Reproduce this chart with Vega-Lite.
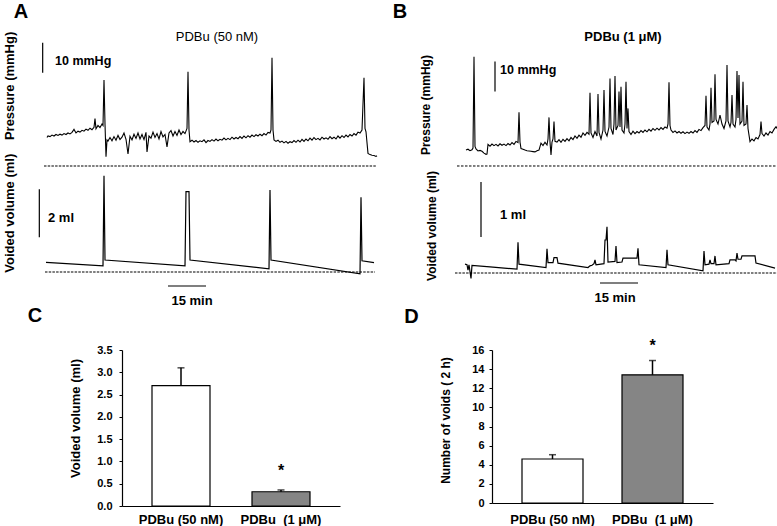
{
"$schema": "https://vega.github.io/schema/vega-lite/v6.json",
"padding": 0,
"autosize": {"type": "pad"},
"background": "white",
"config": {"view": {"stroke": null}, "font": "Liberation Sans", "mark": {"color": "black"}, "text": {"color": "black"}, "axis": {"labelOverlap": false}},
"spacing": 0,
"vconcat": [
{"hconcat": [
 {"width": 390, "height": 338,
  "encoding": {"x": {"field": "t", "type": "quantitative", "scale": {"domain": [-1100, 8650], "nice": false, "zero": false}, "axis": null}},
  "resolve": {"scale": {"y": "independent"}},
  "layer": [
   {"encoding": {"y": {"field": "v", "type": "quantitative", "scale": {"domain": [-57.333, 55.333], "nice": false, "zero": false}, "axis": null}},
    "layer": [
   {"data": {"values": [
{"t":75,"v":9.5},{"t":100,"v":10.0},{"t":150,"v":9.8},{"t":200,"v":10.3},{"t":250,"v":10.0},{"t":300,"v":10.5},{"t":350,"v":10.2},{"t":400,"v":10.6},{"t":450,"v":10.3},{"t":500,"v":10.8},{"t":550,"v":10.5},{"t":600,"v":11.0},{"t":650,"v":10.7},{"t":700,"v":11.2},{"t":750,"v":12.2},{"t":800,"v":11.0},{"t":850,"v":11.6},{"t":900,"v":11.3},{"t":950,"v":11.9},{"t":1000,"v":11.6},{"t":1050,"v":12.3},{"t":1100,"v":11.9},{"t":1150,"v":12.6},{"t":1200,"v":12.1},{"t":1250,"v":12.9},{"t":1275,"v":15.8},{"t":1300,"v":12.4},{"t":1350,"v":13.5},{"t":1400,"v":12.8},{"t":1450,"v":14.0},{"t":1475,"v":13.5},{"t":1500,"v":28.7},{"t":1525,"v":14.0},{"t":1550,"v":3.1},{"t":1575,"v":8.7},
{"t":1600,"v":8.3},{"t":1650,"v":9.5},{"t":1700,"v":8.4},{"t":1750,"v":9.8},{"t":1800,"v":8.6},{"t":1850,"v":10.2},{"t":1900,"v":8.8},{"t":1950,"v":9.6},{"t":2000,"v":11.0},{"t":2050,"v":8.9},{"t":2100,"v":4.0},{"t":2150,"v":9.9},{"t":2200,"v":8.7},{"t":2250,"v":10.6},{"t":2300,"v":9.2},{"t":2350,"v":11.0},{"t":2400,"v":9.0},{"t":2450,"v":10.5},{"t":2500,"v":8.8},{"t":2550,"v":11.2},{"t":2575,"v":4.7},{"t":2625,"v":10.0},{"t":2675,"v":9.3},{"t":2725,"v":11.3},{"t":2775,"v":9.5},{"t":2825,"v":10.8},{"t":2875,"v":9.0},{"t":2925,"v":11.5},{"t":2975,"v":9.7},{"t":3025,"v":10.5},{"t":3075,"v":6.4},{"t":3125,"v":11.0},{"t":3175,"v":11.8},{"t":3225,"v":10.0},{"t":3275,"v":11.5},{"t":3325,"v":10.2},{"t":3375,"v":12.0},{"t":3425,"v":10.5},{"t":3475,"v":11.5},{"t":3525,"v":10.8},{"t":3575,"v":12.5},{"t":3600,"v":31.4},{"t":3625,"v":12.0},{"t":3650,"v":8.1},
{"t":3700,"v":8.6},{"t":3750,"v":8.0},{"t":3800,"v":8.5},{"t":3850,"v":7.9},{"t":3900,"v":8.4},{"t":3950,"v":8.1},{"t":4000,"v":8.7},{"t":4050,"v":7.8},{"t":4100,"v":8.5},{"t":4150,"v":8.2},{"t":4200,"v":8.8},{"t":4250,"v":8.3},{"t":4300,"v":9.0},{"t":4350,"v":8.4},{"t":4400,"v":8.9},{"t":4450,"v":8.6},{"t":4500,"v":9.3},{"t":4550,"v":8.7},{"t":4600,"v":9.2},{"t":4650,"v":8.8},{"t":4700,"v":9.6},{"t":4750,"v":9.0},{"t":4800,"v":9.5},{"t":4850,"v":9.1},{"t":4900,"v":9.8},{"t":4950,"v":9.2},{"t":5000,"v":10.0},{"t":5050,"v":9.4},{"t":5100,"v":10.1},{"t":5150,"v":9.6},{"t":5200,"v":10.3},{"t":5250,"v":9.8},{"t":5300,"v":10.4},{"t":5350,"v":10.0},{"t":5400,"v":10.6},{"t":5450,"v":10.1},{"t":5500,"v":10.8},{"t":5550,"v":10.3},{"t":5600,"v":11.2},{"t":5650,"v":11.0},{"t":5675,"v":12.0},{"t":5700,"v":36.1},{"t":5725,"v":12.0},{"t":5750,"v":8.7},
{"t":5800,"v":8.2},{"t":5850,"v":8.6},{"t":5900,"v":7.9},{"t":5950,"v":8.3},{"t":6000,"v":7.7},{"t":6050,"v":8.2},{"t":6100,"v":7.6},{"t":6150,"v":8.1},{"t":6200,"v":7.8},{"t":6250,"v":8.5},{"t":6300,"v":7.9},{"t":6350,"v":8.6},{"t":6400,"v":8.0},{"t":6450,"v":8.9},{"t":6500,"v":8.2},{"t":6550,"v":9.0},{"t":6600,"v":8.4},{"t":6650,"v":9.3},{"t":6700,"v":8.6},{"t":6750,"v":9.5},{"t":6800,"v":8.8},{"t":6850,"v":9.2},{"t":6900,"v":8.7},{"t":6950,"v":9.6},{"t":7000,"v":9.0},{"t":7050,"v":9.4},{"t":7100,"v":8.9},{"t":7150,"v":9.8},{"t":7200,"v":9.1},{"t":7250,"v":9.6},{"t":7300,"v":9.0},{"t":7350,"v":10.0},{"t":7400,"v":9.3},{"t":7450,"v":10.1},{"t":7500,"v":9.5},{"t":7550,"v":10.3},{"t":7600,"v":9.7},{"t":7650,"v":10.5},{"t":7700,"v":10.0},{"t":7750,"v":10.8},{"t":7800,"v":10.3},{"t":7850,"v":11.3},{"t":7900,"v":11.0},{"t":7950,"v":12.0},{"t":8000,"v":29.4},{"t":8025,"v":12.5},{"t":8050,"v":11.4},{"t":8100,"v":4.2},{"t":8150,"v":3.8},{"t":8200,"v":3.6},{"t":8250,"v":3.5},{"t":8300,"v":3.2},{"t":8325,"v":3.4}
   ]}, "mark": {"type": "line", "color": "black", "strokeWidth": 1.1}},
   {"data": {"values": [{"t": 0, "t2": 8325, "v": 0}]}, "mark": {"type": "rule", "color": "black", "strokeWidth": 1.2, "strokeDash": [2.5, 1.2]}, "encoding": {"x2": {"field": "t2"}}},
   {"data": {"values": [{"t": -33, "v": 31.1, "v2": 41.1}]}, "mark": {"type": "rule", "color": "black", "strokeWidth": 1.2}, "encoding": {"y2": {"field": "v2"}}},
   {"data": {"values": [{"t": -575, "v": 51.3, "label": "A"}]}, "mark": {"type": "text", "fontSize": 20, "fontWeight": "bold", "align": "center", "baseline": "middle"}, "encoding": {"text": {"field": "label"}}},
   {"data": {"values": [{"t": -850, "v": 26.7, "label": "Pressure (mmHg)"}]}, "mark": {"type": "text", "fontSize": 13, "fontWeight": "bold", "angle": 270, "align": "center", "baseline": "middle"}, "encoding": {"text": {"field": "label"}}},
   {"data": {"values": [{"t": 4325, "v": 43, "label": "PDBu (50 nM)"}]}, "mark": {"type": "text", "fontSize": 13, "align": "center", "baseline": "middle"}, "encoding": {"text": {"field": "label"}}},
   {"data": {"values": [{"t": 275, "v": 35, "label": "10 mmHg"}]}, "mark": {"type": "text", "fontSize": 12.5, "fontWeight": "bold", "align": "left", "baseline": "middle"}, "encoding": {"text": {"field": "label"}}}
    ]},
   {"encoding": {"y": {"field": "v", "type": "quantitative", "scale": {"domain": [-2.75, 11.3333], "nice": false, "zero": false}, "axis": null}},
    "layer": [
   {"data": {"values": [
{"t":50,"v":0.40},{"t":1475,"v":0.26},{"t":1500,"v":4.01},{"t":1525,"v":0.50},{"t":3525,"v":0.26},{"t":3550,"v":3.35},{"t":3625,"v":3.35},{"t":3650,"v":0.50},{"t":5625,"v":0.13},{"t":5650,"v":3.42},{"t":5675,"v":0.50},{"t":7900,"v":-0.08},{"t":7925,"v":3.11},{"t":7950,"v":0.47},{"t":8250,"v":0.39}
   ]}, "mark": {"type": "line", "color": "black", "strokeWidth": 1.2}},
   {"data": {"values": [{"t": 25, "t2": 8275, "v": 0}]}, "mark": {"type": "rule", "color": "black", "strokeWidth": 1.2, "strokeDash": [2.5, 1.2]}, "encoding": {"x2": {"field": "t2"}}},
   {"data": {"values": [{"t": -117, "v": 1.446, "v2": 3.446}]}, "mark": {"type": "rule", "color": "black", "strokeWidth": 1.2}, "encoding": {"y2": {"field": "v2"}}},
   {"data": {"values": [{"t": 3100, "t2": 4050, "v": -0.583}]}, "mark": {"type": "rule", "color": "black", "strokeWidth": 1.2}, "encoding": {"x2": {"field": "t2"}}},
   {"data": {"values": [{"t": 100, "v": 2.27, "label": "2 ml"}]}, "mark": {"type": "text", "fontSize": 13, "fontWeight": "bold", "align": "left", "baseline": "middle"}, "encoding": {"text": {"field": "label"}}},
   {"data": {"values": [{"t": 3700, "v": -1.2, "label": "15 min"}]}, "mark": {"type": "text", "fontSize": 13, "fontWeight": "bold", "align": "center", "baseline": "middle"}, "encoding": {"text": {"field": "label"}}},
   {"data": {"values": [{"t": -850, "v": 2.45, "label": "Voided volume (ml)"}]}, "mark": {"type": "text", "fontSize": 13, "fontWeight": "bold", "angle": 270, "align": "center", "baseline": "middle"}, "encoding": {"text": {"field": "label"}}},
   {"data": {"values": [{"t": -225, "v": -1.833, "label": "C"}]}, "mark": {"type": "text", "fontSize": 20, "fontWeight": "bold", "align": "center", "baseline": "middle"}, "encoding": {"text": {"field": "label"}}}
    ]}
  ]},
 {"width": 387, "height": 338,
  "encoding": {"x": {"field": "t", "type": "quantitative", "scale": {"domain": [-1675, 8000], "nice": false, "zero": false}, "axis": null}},
  "resolve": {"scale": {"y": "independent"}},
  "layer": [
   {"encoding": {"y": {"field": "v", "type": "quantitative", "scale": {"domain": [-57.333, 55.333], "nice": false, "zero": false}, "axis": null}},
    "layer": [
   {"data": {"values": [
{"t":225,"v":5.3},{"t":275,"v":5.6},{"t":325,"v":5.1},{"t":375,"v":5.4},{"t":400,"v":6.0},{"t":425,"v":36.4},{"t":450,"v":6.5},{"t":475,"v":5.7},{"t":525,"v":5.0},{"t":575,"v":5.2},{"t":625,"v":4.9},{"t":675,"v":4.3},{"t":725,"v":3.9},{"t":750,"v":4.0},{"t":775,"v":7.2},{"t":825,"v":6.6},{"t":875,"v":7.3},{"t":925,"v":6.8},{"t":975,"v":7.2},{"t":1025,"v":6.7},{"t":1075,"v":7.4},{"t":1125,"v":6.9},{"t":1175,"v":7.3},{"t":1225,"v":6.8},{"t":1275,"v":7.5},{"t":1325,"v":7.0},{"t":1375,"v":7.8},{"t":1425,"v":7.2},{"t":1475,"v":8.2},{"t":1525,"v":7.8},{"t":1550,"v":17.9},{"t":1575,"v":8.0},{"t":1600,"v":5.8},{"t":1650,"v":5.6},{"t":1700,"v":5.3},{"t":1750,"v":5.1},{"t":1800,"v":5.0},{"t":1850,"v":4.9},{"t":1900,"v":4.8},{"t":1950,"v":4.7},{"t":2000,"v":5.1},{"t":2050,"v":5.3},{"t":2100,"v":7.6},{"t":2150,"v":6.8},{"t":2200,"v":7.9},{"t":2250,"v":7.0},{"t":2275,"v":9.0},{"t":2300,"v":16.2},{"t":2325,"v":8.0},{"t":2350,"v":3.7},{"t":2375,"v":8.0},{"t":2400,"v":9.0},{"t":2425,"v":14.8},{"t":2450,"v":8.2},{"t":2500,"v":8.0},{"t":2550,"v":8.8},{"t":2600,"v":7.9},{"t":2650,"v":8.9},{"t":2700,"v":8.2},{"t":2750,"v":9.1},{"t":2800,"v":8.4},{"t":2850,"v":9.5},{"t":2900,"v":8.8},{"t":2950,"v":10.0},{"t":3000,"v":9.2},{"t":3050,"v":10.3},{"t":3100,"v":9.6},{"t":3150,"v":11.0},{"t":3200,"v":10.2},{"t":3250,"v":11.2},{"t":3300,"v":10.6},{"t":3325,"v":24.4},{"t":3350,"v":11.0},{"t":3400,"v":9.5},{"t":3450,"v":11.5},{"t":3500,"v":10.0},{"t":3525,"v":24.0},{"t":3550,"v":11.2},{"t":3600,"v":9.0},{"t":3650,"v":12.0},{"t":3675,"v":25.3},{"t":3700,"v":11.5},{"t":3750,"v":10.0},{"t":3800,"v":13.0},{"t":3825,"v":29.2},{"t":3850,"v":12.5},{"t":3900,"v":10.5},{"t":3925,"v":14.0},{"t":3950,"v":30.0},{"t":3975,"v":12.0},{"t":4025,"v":13.5},{"t":4050,"v":24.8},{"t":4075,"v":13.0},{"t":4100,"v":26.4},{"t":4125,"v":12.0},{"t":4175,"v":11.0},{"t":4200,"v":14.0},{"t":4225,"v":28.1},{"t":4250,"v":12.5},{"t":4275,"v":19.2},{"t":4300,"v":11.5},{"t":4350,"v":10.5},{"t":4400,"v":11.6},{"t":4450,"v":10.8},{"t":4500,"v":11.5},{"t":4550,"v":11.0},{"t":4600,"v":11.8},{"t":4650,"v":11.2},{"t":4700,"v":12.0},{"t":4750,"v":11.4},{"t":4800,"v":12.2},{"t":4850,"v":11.6},{"t":4900,"v":12.5},{"t":4950,"v":11.9},{"t":5000,"v":12.6},{"t":5050,"v":12.0},{"t":5100,"v":12.8},{"t":5150,"v":12.2},{"t":5200,"v":13.0},{"t":5250,"v":12.6},{"t":5275,"v":14.0},{"t":5300,"v":27.9},{"t":5325,"v":13.5},{"t":5350,"v":12.0},{"t":5400,"v":11.2},{"t":5450,"v":11.7},{"t":5500,"v":11.0},{"t":5550,"v":11.5},{"t":5600,"v":10.9},{"t":5650,"v":11.4},{"t":5700,"v":10.8},{"t":5750,"v":11.3},{"t":5800,"v":10.9},{"t":5850,"v":11.5},{"t":5900,"v":11.0},{"t":5950,"v":11.8},{"t":6000,"v":11.2},{"t":6050,"v":12.2},{"t":6100,"v":11.8},{"t":6150,"v":12.8},{"t":6200,"v":13.5},{"t":6225,"v":23.4},{"t":6250,"v":13.0},{"t":6300,"v":12.0},{"t":6325,"v":14.0},{"t":6350,"v":26.1},{"t":6375,"v":14.5},{"t":6425,"v":15.0},{"t":6450,"v":30.6},{"t":6475,"v":15.5},{"t":6525,"v":14.0},{"t":6575,"v":17.0},{"t":6625,"v":14.0},{"t":6675,"v":12.5},{"t":6725,"v":15.0},{"t":6750,"v":33.7},{"t":6775,"v":15.0},{"t":6825,"v":13.0},{"t":6850,"v":14.5},{"t":6875,"v":23.7},{"t":6900,"v":14.0},{"t":6950,"v":13.0},{"t":6975,"v":15.5},{"t":7000,"v":31.7},{"t":7025,"v":16.0},{"t":7050,"v":30.3},{"t":7075,"v":14.0},{"t":7125,"v":15.0},{"t":7150,"v":28.1},{"t":7175,"v":13.5},{"t":7225,"v":14.0},{"t":7250,"v":20.3},{"t":7275,"v":12.5},{"t":7325,"v":8.1},{"t":7375,"v":9.0},{"t":7425,"v":8.4},{"t":7475,"v":9.5},{"t":7525,"v":9.0},{"t":7575,"v":10.5},{"t":7600,"v":14.8},{"t":7625,"v":10.8},{"t":7675,"v":10.0},{"t":7725,"v":11.0},{"t":7775,"v":10.3},{"t":7825,"v":11.5},{"t":7875,"v":11.0},{"t":7925,"v":12.2},{"t":7975,"v":13.1},{"t":8000,"v":12.5}
   ]}, "mark": {"type": "line", "color": "black", "strokeWidth": 1.1}},
   {"data": {"values": [{"t": 0, "t2": 8000, "v": 0}]}, "mark": {"type": "rule", "color": "black", "strokeWidth": 1, "strokeDash": [2.5, 1.5]}, "encoding": {"x2": {"field": "t2"}}},
   {"data": {"values": [{"t": 950, "v": 24.8, "v2": 34.8}]}, "mark": {"type": "rule", "color": "black", "strokeWidth": 1.2}, "encoding": {"y2": {"field": "v2"}}},
   {"data": {"values": [{"t": -1425, "v": 51.3, "label": "B"}]}, "mark": {"type": "text", "fontSize": 20, "fontWeight": "bold", "align": "center", "baseline": "middle"}, "encoding": {"text": {"field": "label"}}},
   {"data": {"values": [{"t": -775, "v": 20.3, "label": "Pressure (mmHg)"}]}, "mark": {"type": "text", "fontSize": 12, "fontWeight": "bold", "angle": 270, "align": "center", "baseline": "middle"}, "encoding": {"text": {"field": "label"}}},
   {"data": {"values": [{"t": 4150, "v": 43, "label": "PDBu (1 μM)"}]}, "mark": {"type": "text", "fontSize": 13, "fontWeight": "bold", "align": "center", "baseline": "middle"}, "encoding": {"text": {"field": "label"}}},
   {"data": {"values": [{"t": 1075, "v": 32, "label": "10 mmHg"}]}, "mark": {"type": "text", "fontSize": 12.5, "fontWeight": "bold", "align": "left", "baseline": "middle"}, "encoding": {"text": {"field": "label"}}}
    ]},
   {"encoding": {"y": {"field": "v", "type": "quantitative", "scale": {"domain": [-1.1818, 4.9636], "nice": false, "zero": false}, "axis": null}},
    "layer": [
   {"data": {"values": [
{"t":200,"v":0.16},{"t":250,"v":0.15},{"t":275,"v":0.05},{"t":300,"v":0.15},{"t":350,"v":-0.10},{"t":375,"v":0.14},{"t":825,"v":0.11},{"t":1500,"v":0.07},{"t":1525,"v":0.56},{"t":1550,"v":0.16},{"t":2225,"v":0.10},{"t":2250,"v":0.44},{"t":2275,"v":0.19},{"t":2400,"v":0.19},{"t":2425,"v":0.28},{"t":2500,"v":0.28},{"t":2525,"v":0.18},{"t":3275,"v":0.10},{"t":3325,"v":0.13},{"t":3375,"v":0.14},{"t":3425,"v":0.17},{"t":3450,"v":0.24},{"t":3475,"v":0.15},{"t":3675,"v":0.17},{"t":3700,"v":0.60},{"t":3725,"v":0.60},{"t":3750,"v":0.84},{"t":3775,"v":0.20},{"t":3950,"v":0.21},{"t":3975,"v":0.49},{"t":4000,"v":0.19},{"t":4125,"v":0.20},{"t":4150,"v":0.27},{"t":4500,"v":0.27},{"t":4525,"v":0.45},{"t":4550,"v":0.15},{"t":5225,"v":0.10},{"t":5250,"v":0.42},{"t":5275,"v":0.15},{"t":6150,"v":0.04},{"t":6175,"v":0.40},{"t":6200,"v":0.15},{"t":6300,"v":0.16},{"t":6325,"v":0.24},{"t":6350,"v":0.17},{"t":6425,"v":0.17},{"t":6450,"v":0.31},{"t":6475,"v":0.15},{"t":6800,"v":0.17},{"t":6825,"v":0.24},{"t":6950,"v":0.24},{"t":6975,"v":0.22},{"t":7000,"v":0.36},{"t":7025,"v":0.25},{"t":7100,"v":0.25},{"t":7125,"v":0.31},{"t":7450,"v":0.31},{"t":7475,"v":0.18},{"t":7950,"v":0.09}
   ]}, "mark": {"type": "line", "color": "black", "strokeWidth": 1.2}},
   {"data": {"values": [{"t": -50, "t2": 8000, "v": 0}]}, "mark": {"type": "rule", "color": "black", "strokeWidth": 1.2, "strokeDash": [2.5, 1.2]}, "encoding": {"x2": {"field": "t2"}}},
   {"data": {"values": [{"t": 600, "v": 0.6545, "v2": 1.6545}]}, "mark": {"type": "rule", "color": "black", "strokeWidth": 1.2}, "encoding": {"y2": {"field": "v2"}}},
   {"data": {"values": [{"t": 3575, "t2": 4525, "v": -0.1818}]}, "mark": {"type": "rule", "color": "black", "strokeWidth": 1.2}, "encoding": {"x2": {"field": "t2"}}},
   {"data": {"values": [{"t": 1075, "v": 1.0545, "label": "1 ml"}]}, "mark": {"type": "text", "fontSize": 13, "fontWeight": "bold", "align": "left", "baseline": "middle"}, "encoding": {"text": {"field": "label"}}},
   {"data": {"values": [{"t": 3950, "v": -0.4636, "label": "15 min"}]}, "mark": {"type": "text", "fontSize": 13, "fontWeight": "bold", "align": "center", "baseline": "middle"}, "encoding": {"text": {"field": "label"}}},
   {"data": {"values": [{"t": -625, "v": 0.8545, "label": "Voided volume (ml)"}]}, "mark": {"type": "text", "fontSize": 12, "fontWeight": "bold", "angle": 270, "align": "center", "baseline": "middle"}, "encoding": {"text": {"field": "label"}}},
   {"data": {"values": [{"t": -1137, "v": -0.809, "label": "D"}]}, "mark": {"type": "text", "fontSize": 20, "fontWeight": "bold", "align": "center", "baseline": "middle"}, "encoding": {"text": {"field": "label"}}}
    ]}
  ]}
], "spacing": 0, "bounds": "flush"},
{"hconcat": [
 {"width": 122, "height": 1, "data": {"values": []}, "mark": "point"},
 {"width": 218, "height": 156,
  "data": {"values": [{"group": "PDBu (50 nM)", "mean": 2.7, "upper": 3.1}, {"group": "PDBu\u00a0 (1 μM)", "mean": 0.32, "upper": 0.36}]},
  "encoding": {"x": {"field": "group", "type": "nominal", "sort": null, "scale": {"paddingInner": 0.42, "paddingOuter": 0.3},
    "axis": {"title": null, "labelAngle": 0, "ticks": false, "tickSize": 0, "labelPadding": 7, "labelFontSize": 13, "labelFontWeight": "bold", "labelColor": "black", "domainColor": "black", "domainWidth": 1.2}}},
  "layer": [
   {"mark": {"type": "bar", "stroke": "black", "strokeWidth": 1.2},
    "encoding": {"y": {"field": "mean", "type": "quantitative", "title": "Voided volume (ml)", "scale": {"domain": [0, 3.5], "nice": false},
       "axis": {"values": [0, 0.5, 1, 1.5, 2, 2.5, 3, 3.5], "format": ".1f", "labelOverlap": false, "grid": false, "tickSize": 3, "tickColor": "black", "labelPadding": 7, "labelFontSize": 11, "labelFontWeight": "bold", "labelColor": "black", "domainColor": "black", "domainWidth": 1.2, "titleFontSize": 13, "titleFontWeight": "bold", "titleColor": "black", "titlePadding": 14, "titleY": 68}},
     "fill": {"field": "group", "type": "nominal", "sort": null, "scale": {"range": ["#ffffff", "#858585"]}, "legend": null}}},
   {"mark": {"type": "rule", "color": "black", "strokeWidth": 1.5}, "encoding": {"y": {"field": "mean", "type": "quantitative", "title": "Voided volume (ml)", "scale": {"domain": [0, 3.5], "nice": false},
       "axis": {"values": [0, 0.5, 1, 1.5, 2, 2.5, 3, 3.5], "format": ".1f", "labelOverlap": false, "grid": false, "tickSize": 3, "tickColor": "black", "labelPadding": 7, "labelFontSize": 11, "labelFontWeight": "bold", "labelColor": "black", "domainColor": "black", "domainWidth": 1.2, "titleFontSize": 13, "titleFontWeight": "bold", "titleColor": "black", "titlePadding": 14, "titleY": 68}}, "y2": {"field": "upper"}}},
   {"mark": {"type": "tick", "color": "black", "size": 7, "thickness": 1.5}, "encoding": {"y": {"field": "upper", "type": "quantitative", "title": "Voided volume (ml)", "scale": {"domain": [0, 3.5], "nice": false},
       "axis": {"values": [0, 0.5, 1, 1.5, 2, 2.5, 3, 3.5], "format": ".1f", "labelOverlap": false, "grid": false, "tickSize": 3, "tickColor": "black", "labelPadding": 7, "labelFontSize": 11, "labelFontWeight": "bold", "labelColor": "black", "domainColor": "black", "domainWidth": 1.2, "titleFontSize": 13, "titleFontWeight": "bold", "titleColor": "black", "titlePadding": 14, "titleY": 68}}}},
   {"data": {"values": [{"group": "PDBu\u00a0 (1 μM)", "star": 0.67, "label": "*"}]}, "mark": {"type": "text", "fontSize": 16, "fontWeight": "bold", "align": "center", "baseline": "alphabetic"},
    "encoding": {"y": {"field": "star", "type": "quantitative", "title": "Voided volume (ml)", "scale": {"domain": [0, 3.5], "nice": false},
       "axis": {"values": [0, 0.5, 1, 1.5, 2, 2.5, 3, 3.5], "format": ".1f", "labelOverlap": false, "grid": false, "tickSize": 3, "tickColor": "black", "labelPadding": 7, "labelFontSize": 11, "labelFontWeight": "bold", "labelColor": "black", "domainColor": "black", "domainWidth": 1.2, "titleFontSize": 13, "titleFontWeight": "bold", "titleColor": "black", "titlePadding": 14, "titleY": 68}}, "text": {"field": "label"}}}
  ]},
 {"width": 152, "height": 1, "data": {"values": []}, "mark": "point"},
 {"width": 221, "height": 153,
  "data": {"values": [{"group": "PDBu (50 nM)", "mean": 4.6, "upper": 5.05}, {"group": "PDBu\u00a0 (1 μM)", "mean": 13.4, "upper": 14.9}]},
  "encoding": {"x": {"field": "group", "type": "nominal", "sort": null, "scale": {"paddingInner": 0.39, "paddingOuter": 0.3},
    "axis": {"title": null, "labelAngle": 0, "ticks": false, "tickSize": 0, "labelPadding": 10, "labelFontSize": 13, "labelFontWeight": "bold", "labelColor": "black", "domainColor": "black", "domainWidth": 1.2}}},
  "layer": [
   {"mark": {"type": "bar", "stroke": "black", "strokeWidth": 1.2},
    "encoding": {"y": {"field": "mean", "type": "quantitative", "title": "Number of voids ( 2 h)", "scale": {"domain": [0, 16], "nice": false},
       "axis": {"values": [0, 2, 4, 6, 8, 10, 12, 14, 16], "format": "d", "labelOverlap": false, "grid": false, "tickSize": 3, "tickColor": "black", "labelPadding": 5, "labelFontSize": 11, "labelFontWeight": "bold", "labelColor": "black", "domainColor": "black", "domainWidth": 1.2, "titleFontSize": 12, "titleFontWeight": "bold", "titleColor": "black", "titlePadding": 19, "titleY": 70}},
     "fill": {"field": "group", "type": "nominal", "sort": null, "scale": {"range": ["#ffffff", "#858585"]}, "legend": null}}},
   {"mark": {"type": "rule", "color": "black", "strokeWidth": 1.5}, "encoding": {"y": {"field": "mean", "type": "quantitative", "title": "Number of voids ( 2 h)", "scale": {"domain": [0, 16], "nice": false},
       "axis": {"values": [0, 2, 4, 6, 8, 10, 12, 14, 16], "format": "d", "labelOverlap": false, "grid": false, "tickSize": 3, "tickColor": "black", "labelPadding": 5, "labelFontSize": 11, "labelFontWeight": "bold", "labelColor": "black", "domainColor": "black", "domainWidth": 1.2, "titleFontSize": 12, "titleFontWeight": "bold", "titleColor": "black", "titlePadding": 19, "titleY": 70}}, "y2": {"field": "upper"}}},
   {"mark": {"type": "tick", "color": "black", "size": 7, "thickness": 1.5}, "encoding": {"y": {"field": "upper", "type": "quantitative", "title": "Number of voids ( 2 h)", "scale": {"domain": [0, 16], "nice": false},
       "axis": {"values": [0, 2, 4, 6, 8, 10, 12, 14, 16], "format": "d", "labelOverlap": false, "grid": false, "tickSize": 3, "tickColor": "black", "labelPadding": 5, "labelFontSize": 11, "labelFontWeight": "bold", "labelColor": "black", "domainColor": "black", "domainWidth": 1.2, "titleFontSize": 12, "titleFontWeight": "bold", "titleColor": "black", "titlePadding": 19, "titleY": 70}}}},
   {"data": {"values": [{"group": "PDBu\u00a0 (1 μM)", "star": 15.87, "label": "*"}]}, "mark": {"type": "text", "fontSize": 16, "fontWeight": "bold", "align": "center", "baseline": "alphabetic"},
    "encoding": {"y": {"field": "star", "type": "quantitative", "title": "Number of voids ( 2 h)", "scale": {"domain": [0, 16], "nice": false},
       "axis": {"values": [0, 2, 4, 6, 8, 10, 12, 14, 16], "format": "d", "labelOverlap": false, "grid": false, "tickSize": 3, "tickColor": "black", "labelPadding": 5, "labelFontSize": 11, "labelFontWeight": "bold", "labelColor": "black", "domainColor": "black", "domainWidth": 1.2, "titleFontSize": 12, "titleFontWeight": "bold", "titleColor": "black", "titlePadding": 19, "titleY": 70}}, "text": {"field": "label"}}}
  ]}
], "spacing": 0, "bounds": "flush"}
]
}
